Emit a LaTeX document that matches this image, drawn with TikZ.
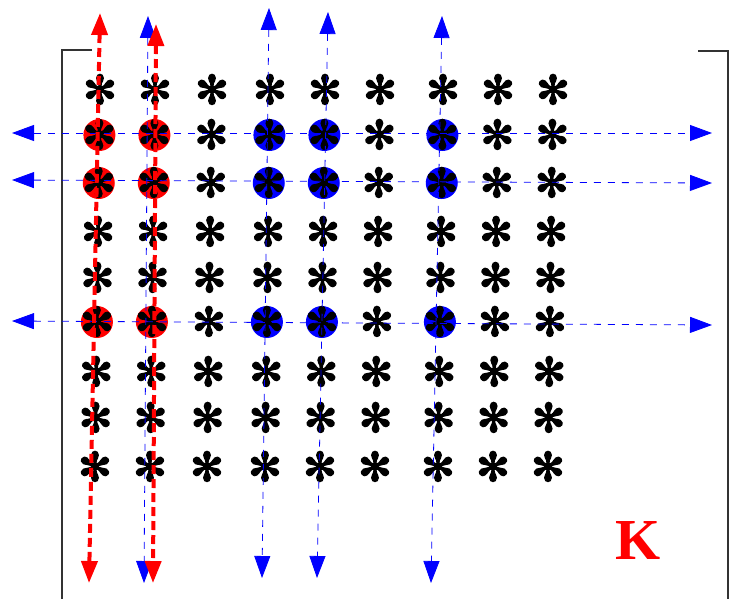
\documentclass[tikz,border=0pt]{standalone}
\usepackage{fontspec}
\setmainfont{Liberation Serif}
\newfontfamily\symfont[FakeBold=3]{DejaVu Sans}
\usetikzlibrary{arrows.meta,backgrounds}

\begin{document}
\begin{tikzpicture}[x=1pt, y=-1pt,
  ast/.style={inner sep=0pt, font=\symfont\fontsize{40}{40}\selectfont},
  rdot/.style={circle, fill=red, minimum size=32pt, inner sep=0pt},
  bdot/.style={circle, fill=blue, minimum size=32pt, inner sep=0pt},
  tip/.style={{Triangle[length=22pt,width=16pt]}-{Triangle[length=22pt,width=16pt]}},
  rarr/.style={tip, red, line width=4pt, dash pattern=on 9pt off 5pt},
  barr/.style={tip, blue, line width=0.8pt, dash pattern=on 7pt off 7pt},
  brk/.style={draw=black!80, line width=1.4pt}]
\useasboundingbox (0,0) rectangle (730,598);
% the bracket round the grid
\draw[brk] (92,50) -- (62,50) -- (62,600);
\draw[brk] (698,51) -- (728,51) -- (728,600);
% grid of markers
\foreach \j/\x in {1/100,2/155,3/212,4/270,5/325,6/380,7/443,8/498,9/553}
  \foreach \i/\y in {1/90,2/135,3/183,4/232,5/278,6/322,7/372,8/418,9/467}
    \node[ast] (s\i\j) at ({\x-0.0133*(\y-90)},\y) {\smash{\raisebox{-0.35em}{✻}}};
\begin{scope}[on background layer]
\foreach \i in {2,3,6} {
  \node[rdot] (r\i1) at (s\i1) {};
  \node[rdot] (r\i2) at (s\i2) {};
  \node[bdot] (b\i4) at (s\i4) {};
  \node[bdot] (b\i5) at (s\i5) {};
  \node[bdot] (b\i7) at (s\i7) {};
}
\end{scope}
% arrow ends
\coordinate (c1t) at (100,13);  \coordinate (c1b) at (89,583);
\coordinate (c2t) at (156,24);  \coordinate (c2b) at (153,583);
\coordinate (b2t) at (148,16);  \coordinate (b2b) at (144,583);
\coordinate (b4t) at (269,8);   \coordinate (b4b) at (262,578);
\coordinate (b5t) at (328,12);  \coordinate (b5b) at (317,578);
\coordinate (b7t) at (442,16);  \coordinate (b7b) at (431,583);
\coordinate (h2l) at (12,133);  \coordinate (h2r) at (712,133);
\coordinate (h3l) at (12,180);  \coordinate (h3r) at (712,183);
\coordinate (h6l) at (12,321);  \coordinate (h6r) at (712,325);
\draw[barr] (h2l) -- (h2r);
\draw[barr] (h3l) -- (h3r);
\draw[barr] (h6l) -- (h6r);
\draw[barr] (b2t) -- (b2b);
\draw[barr] (b4t) -- (b4b);
\draw[barr] (b5t) -- (b5b);
\draw[barr] (b7t) -- (b7b);
\draw[rarr] (c1t) -- (c1b);
\draw[rarr] (c2t) -- (c2b);
\node[text=red, font=\bfseries\fontsize{58}{58}\selectfont] (klab) at (638,540) {K};
\end{tikzpicture}
\end{document}
